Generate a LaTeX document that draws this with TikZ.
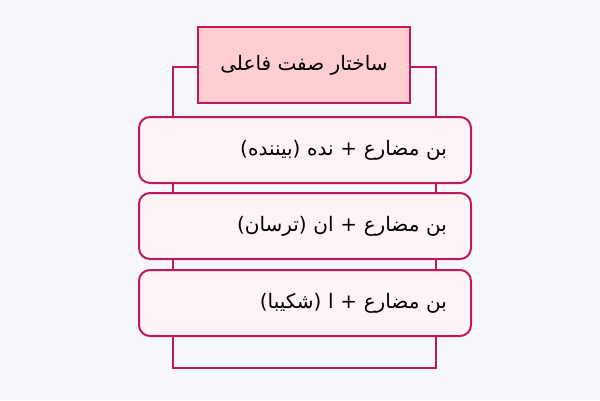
\documentclass[tikz,border=0pt]{standalone}
\usepackage{fontspec}
\newfontfamily\persianfont[Script=Arabic]{DejaVu Sans}
\TeXXeTstate=1
\definecolor{bgcol}{HTML}{F5F7FA}
\definecolor{edgecol}{HTML}{C2185B}
\definecolor{titlefill}{HTML}{FFCDD2}
\definecolor{stemfill}{HTML}{FFF4F5}
\tikzset{
  titlebox/.style={draw=edgecol, line width=2pt, fill=titlefill,
    minimum width=212pt, minimum height=76pt, inner sep=0pt,
    font=\persianfont\fontsize{20}{24}\selectfont},
  stembox/.style={draw=edgecol, line width=2pt, fill=stemfill,
    rounded corners=11pt, text width=284pt, inner xsep=24pt, inner ysep=0pt,
    minimum height=66pt, align=right,
    font=\persianfont\fontsize{20}{24}\selectfont},
  frame/.style={draw=edgecol, line width=2pt}
}
\begin{document}
\begin{tikzpicture}[x=1pt,y=-1pt]
\useasboundingbox[fill=bgcol] (0,0) rectangle (600,400);

% outer frame behind the boxes
\draw[frame] (173,67) rectangle (436,368);

\node[titlebox] (title) at (304,65) {\beginR ساختار صفت فاعلی\endR};

\node[stembox] (stem1) at (305,150) {\beginR بن مضارع + نده (بیننده)\endR};
\node[stembox] (stem2) at (305,226) {\beginR بن مضارع + ان (ترسان)\endR};
\node[stembox] (stem3) at (305,303) {\beginR بن مضارع + ا (شکیبا)\endR};
\end{tikzpicture}
\end{document}
